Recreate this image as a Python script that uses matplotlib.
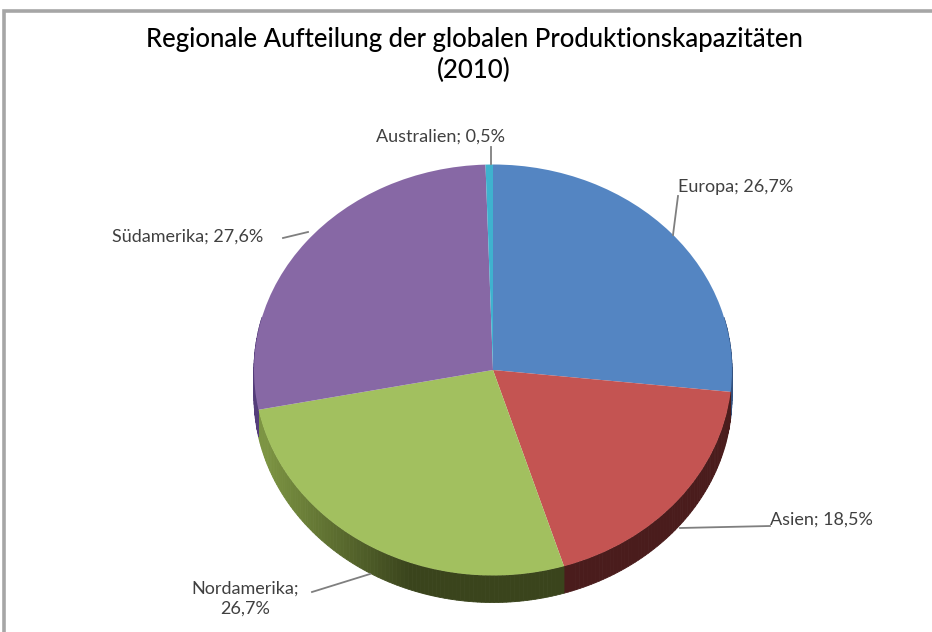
import numpy as np
import matplotlib
matplotlib.use("Agg")
import matplotlib.pyplot as plt

W, H = 932, 632

# values in pie order, clockwise from the top
regions = ["Europa", "Asien", "Nordamerika", "Südamerika", "Australien"]
shares = [26.7, 18.5, 26.7, 27.6, 0.5]
top_colors = ["#5485C2", "#C45452", "#A2C05F", "#8768A5", "#3FB2CE"]
title_lines = "Regionale Aufteilung der globalen Produktionskapazitäten\n(2010)"
label_texts = [
    "Europa; 26,7%",
    "Asien; 18,5%",
    "Nordamerika;\n26,7%",
    "Südamerika; 27,6%",
    "Australien; 0,5%",
]

# pie geometry in pixels
CX, CY, RX, RY, DEPTH = 493, 370, 239, 205.5, 27


def to_data(x, y):
    return (x - CX) / RX, (CY - y) / RY


def side_color(name, theta):
    # side wall colour, green one fades from left to bottom
    c = np.cos(theta)
    if name == "Nordamerika":
        t = np.clip((-c - 0.35) / 0.6, 0, 1)
        return tuple((np.array([58, 68, 28]) + t * np.array([66, 80, 38])) / 255)
    if name == "Asien":
        return (0.29, 0.11, 0.11)
    if name == "Südamerika":
        return (0.33, 0.24, 0.48)
    return (0.2, 0.32, 0.5)


plt.rcParams["font.family"] = ["Lato", "DejaVu Sans"]
fig = plt.figure(figsize=(W / 100, H / 100), dpi=100, facecolor="white")
ax = fig.add_axes([0, 0, 1, 1])

# side wall, drawn in short steps along the arc
start = 90.0
depth = DEPTH / RY
for name, share in zip(regions, shares):
    sweep = share * 3.6
    angles = np.radians(np.linspace(start, start - sweep, max(int(sweep), 2) + 1))
    for a0, a1 in zip(angles[:-1], angles[1:]):
        if np.sin(a0) > 0.25 and np.sin(a1) > 0.25:
            continue
        xs = [np.cos(a0), np.cos(a1), np.cos(a1), np.cos(a0)]
        ys = [np.sin(a0), np.sin(a1), np.sin(a1) - depth, np.sin(a0) - depth]
        col = side_color(name, (a0 + a1) / 2)
        ax.fill(xs, ys, color=col, lw=0.6, zorder=1)
    start -= sweep

wedges, _ = ax.pie(
    shares,
    colors=top_colors,
    startangle=90,
    counterclock=False,
    radius=1,
    center=(0, 0),
    frame=True,
)
for w in wedges:
    w.set_zorder(2)

ax.set_aspect("auto")
x0, y0 = to_data(0, H)
x1, y1 = to_data(W, 0)
ax.set_xlim(x0, x1)
ax.set_ylim(y0, y1)
ax.axis("off")

# chart frame, only top and left show in the crop
fx, fy = to_data(4, 11)
ax.plot([x1, fx, fx], [fy, fy, y0], color="#A6A6A6", lw=2.6, zorder=1, solid_joinstyle="miter")

tx, ty = to_data(474, 55)
ax.text(tx, ty, title_lines, ha="center", va="center", fontsize=18.5, fontweight="medium",
        color="black", linespacing=1.25)

# label anchor points and leader lines, pixels
label_pos = [(678, 187), (770, 520), (245, 599), (112, 237), (376, 137)]
label_ha = ["left", "left", "center", "left", "left"]
leaders = [
    [(678, 196), (673, 235)],
    [(770, 526), (680, 528)],
    [(312, 592), (370, 574)],
    [(283, 238), (308, 232)],
    [(491, 147), (491, 164)],
]
for txt, pos, ha, lead in zip(label_texts, label_pos, label_ha, leaders):
    lx, ly = to_data(*pos)
    ax.text(lx, ly, txt, ha=ha, va="center", fontsize=13, color="#404040", linespacing=1.3, zorder=4)
    pts = [to_data(*p) for p in lead]
    ax.plot([p[0] for p in pts], [p[1] for p in pts], color="#7F7F7F", lw=1.3, zorder=3)

fig.savefig("out.png", dpi=100)
